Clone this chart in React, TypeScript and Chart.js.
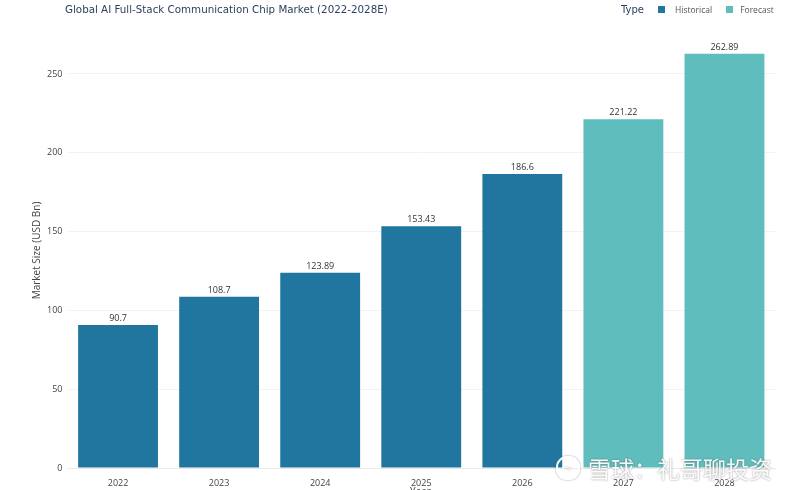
import React, { useEffect, useRef } from "react";
import { Chart, registerables } from "chart.js";

Chart.register(...registerables);

const years = ["2022", "2023", "2024", "2025", "2026", "2027", "2028"];
const historical = [90.7, 108.7, 123.89, 153.43, 186.6, null, null];
const forecast = [null, null, null, null, null, 221.22, 262.89];
const labelsText = ["90.7", "108.7", "123.89", "153.43", "186.6", "221.22", "262.89"];
const yTicks = [0, 50, 100, 150, 200, 250];

const HIST_COLOR = "#2176a0";
const FORE_COLOR = "#5fbdbe";

const valueLabels = {
  id: "valueLabels",
  afterDatasetsDraw(chart: any) {
    const ctx = chart.ctx;
    ctx.save();
    ctx.font = "9px 'Open Sans'";
    ctx.fillStyle = "#333";
    ctx.textAlign = "center";
    ctx.textBaseline = "bottom";
    chart.data.datasets.forEach((ds: any, di: number) => {
      const meta = chart.getDatasetMeta(di);
      meta.data.forEach((bar: any, i: number) => {
        const v = ds.data[i];
        if (v == null) return;
        ctx.fillText(labelsText[i], bar.x, bar.y - 2);
      });
    });
    ctx.restore();
  },
};

export default function App() {
  const ref = useRef<HTMLCanvasElement | null>(null);
  useEffect(() => {
    document.body.style.margin = "0";
    const chart = new Chart(ref.current!, {
      type: "bar",
      data: {
        labels: years,
        datasets: [
          { label: "Historical", data: historical, backgroundColor: HIST_COLOR, grouped: false, barPercentage: 0.79, categoryPercentage: 1 } as any,
          { label: "Forecast", data: forecast, backgroundColor: FORE_COLOR, grouped: false, barPercentage: 0.79, categoryPercentage: 1 } as any,
        ],
      },
      options: {
        animation: false,
        responsive: false,
        maintainAspectRatio: false,
        layout: { padding: { left: 0, right: 25, top: 33, bottom: 0 } },
        plugins: { legend: { display: false }, tooltip: { enabled: false }, title: { display: false } },
        scales: {
          x: {
            grid: { display: false },
            border: { display: true, color: "#ebebeb" },
            ticks: { font: { family: "'Open Sans'", size: 9 }, color: "#444", padding: 2, maxRotation: 0 },
            afterFit: (s: any) => { s.height = 22; },
          },
          y: {
            min: 0,
            max: 276,
            afterBuildTicks: (s: any) => { s.ticks = yTicks.map((v) => ({ value: v })); },
            grid: { color: "#f2f2f2", drawTicks: false },
            border: { display: false },
            ticks: { font: { family: "'Open Sans'", size: 9 }, color: "#444", padding: 5 },
            title: { display: true, text: "Market Size (USD Bn)", font: { family: "'Open Sans'", size: 10 }, color: "#444", padding: { top: 31, bottom: 0 } },
            afterFit: (s: any) => { s.width = 67.5; },
          },
        },
      },
      plugins: [valueLabels],
    });
    return () => chart.destroy();
  }, []);

  const sq = (c: string, mr: number) => ({ display: "inline-block", width: 7, height: 7, background: c, marginRight: mr } as React.CSSProperties);

  return (
    <div style={{ position: "relative", width: 800, height: 490, overflow: "hidden", background: "#fff" }}>
      <canvas ref={ref} width={800} height={490} style={{ position: "absolute", left: 0, top: 0 }} />
      <div style={{ position: "absolute", left: 65, top: 3, fontFamily: "'DejaVu Sans'", fontSize: 10.3, color: "#2a3f5f", whiteSpace: "nowrap" }}>
        Global AI Full-Stack Communication Chip Market (2022-2028E)
      </div>
      <div style={{ position: "absolute", left: 621, top: 4, display: "flex", alignItems: "center", whiteSpace: "nowrap" }}>
        <span style={{ fontFamily: "'DejaVu Sans'", fontSize: 10, color: "#2a3f5f", marginRight: 14 }}>Type</span>
        <span style={sq(HIST_COLOR, 10)} />
        <span style={{ fontFamily: "'Open Sans'", fontSize: 8.5, color: "#555", marginRight: 14 }}>Historical</span>
        <span style={sq(FORE_COLOR, 7)} />
        <span style={{ fontFamily: "'Open Sans'", fontSize: 8.5, color: "#555" }}>Forecast</span>
      </div>
      <div style={{ position: "absolute", left: 410, top: 484, fontFamily: "'Open Sans'", fontSize: 10, color: "#444" }}>Year</div>
      <div style={{ position: "absolute", left: 556, top: 451, display: "flex", alignItems: "center", whiteSpace: "nowrap", color: "rgba(255,255,255,0.95)", textShadow: "0 0 2px rgba(90,90,90,0.7)", fontFamily: "'Noto Sans CJK SC'", fontSize: 23 }}>
        <span style={{ display: "inline-block", width: 20, height: 20, borderRadius: 11, border: "2px solid rgba(255,255,255,0.95)", boxShadow: "0 0 2px rgba(90,90,90,0.7)", marginRight: 8, fontSize: 13, lineHeight: "20px", textAlign: "center" }}>~</span>
        雪球：礼哥聊投资
      </div>
    </div>
  );
}
